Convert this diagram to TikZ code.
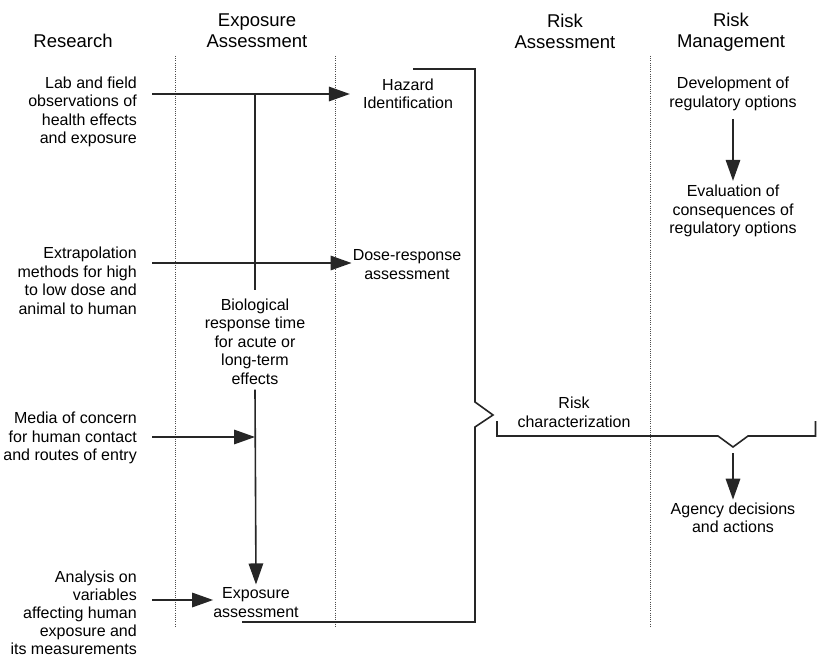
\documentclass[tikz,border=0pt]{standalone}
\usepackage{fontspec}
\setmainfont{Liberation Sans}
\usetikzlibrary{arrows.meta,calc}
\begin{document}
\begin{tikzpicture}[x=1pt,y=-1pt,
  txt/.style={inner sep=0pt, align=center, font=\fontsize{16}{18.5}\selectfont},
  rtxt/.style={txt, align=right, anchor=east},
  hdr/.style={inner sep=0pt, align=center, font=\fontsize{18.5}{21}\selectfont},
  ln/.style={line width=1.6pt, draw=black!85},
  arr/.style={ln, -{Triangle[length=21pt,width=14.5pt]}},
  sep/.style={line width=0.9pt, dash pattern=on 1pt off 1.2pt, draw=black!70}]
\useasboundingbox (0,0) rectangle (817,661);

% headers
\node[hdr] (hR) at (73,41) {Research};
\node[hdr] (hE) at (257,31) {Exposure\\Assessment};
\node[hdr] (hRA) at (565,31) {Risk\\Assessment};
\node[hdr] (hRM) at (731,32) {Risk\\Management};

% column separators
\draw[sep] (175,56) -- (175,628);
\draw[sep] (335,56) -- (335,628);
\draw[sep] (650,56) -- (650,628);

% research column
\node[rtxt] (r1) at (137,112) {Lab and field\\observations of\\health effects\\and exposure};
\node[rtxt] (r2) at (137,281) {Extrapolation\\methods for high\\to low dose and\\animal to human};
\node[rtxt] (r3) at (137,438) {Media of concern\\for human contact\\and routes of entry};
\node[rtxt, font=\fontsize{16}{18}\selectfont] (r4) at (137,613) {Analysis on\\variables\\affecting human\\exposure and\\its measurements};

% other nodes
\node[txt] (haz) at (408,94) {Hazard\\Identification};
\node[txt] (dose) at (407,264.5) {Dose-response\\assessment};
\node[txt] (bio) at (255,341.5) {Biological\\response time\\for acute or\\long-term\\effects};
\node[txt] (expo) at (256,602.5) {Exposure\\assessment};
\node[txt] (riskc) at (574,412.5) {Risk\\characterization};
\node[txt] (dev) at (733,94) {Development of\\regulatory options};
\node[txt] (eval) at (733,211) {Evaluation of\\consequences of\\regulatory options};
\node[txt] (agency) at (733,518) {Agency decisions\\and actions};

% arrows
\coordinate (a1) at ($(r1.east)+(15,-18)$);
\draw[arr] (a1) -- ($(a1 -| haz.west)+(-13,0)$);
\draw[ln] (a1 -| bio.north) -- ($(bio.north)+(0,-8)$);

\coordinate (a2) at ($(r2.east)+(15,-18)$);
\draw[arr] (a2) -- ($(a2 -| dose.west)+(-1,0)$);

\draw[arr] ($(bio.south)+(0,5)$) -- ($(expo.north)+(0,-3)$);

\draw[arr] ($(r3.east)+(15,-1)$) -- ($(r3.east -| bio.south)+(0,-1)$);

\coordinate (a4) at ($(r4.east)+(15,-13)$);
\draw[arr] (a4) -- (a4 -| expo.west);

% brackets
\draw[ln] (413,69) -- (475,69) -- (475,402) -- (493,415) -- (475,427) -- (475,622) -- (242,622);
\coordinate (v) at (733,447);
\draw[ln] (497,421) -- (497,436) -- (718,436) -- (v) -- (748,436) -- (815.5,436) -- (815.5,421);

\draw[arr] ($(v)+(0,6)$) -- ($(agency.north)+(0,-3)$);
\draw[arr] ($(dev.south)+(0,8)$) -- ($(eval.north)+(0,-4)$);
\end{tikzpicture}
\end{document}
